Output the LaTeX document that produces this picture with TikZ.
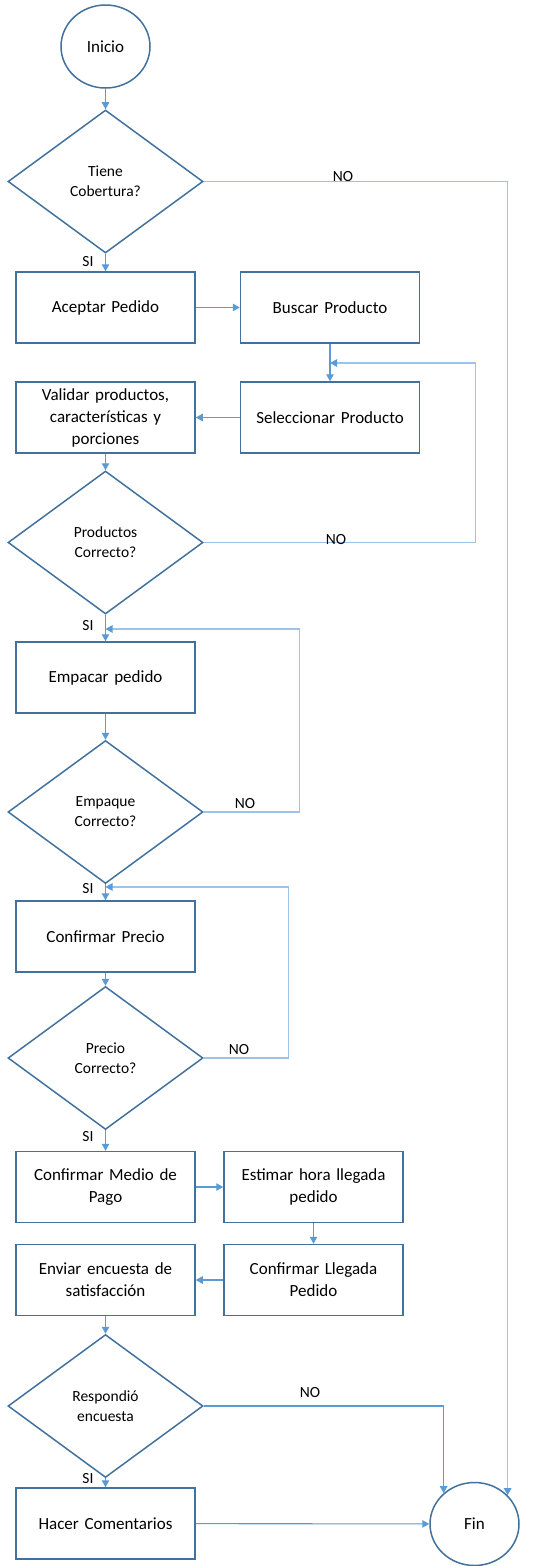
\documentclass[tikz,border=0pt]{standalone}
\usepackage{fontspec}
\setmainfont{Carlito}
\usetikzlibrary{shapes.geometric,arrows.meta,calc}
\definecolor{shapeblue}{HTML}{41719C}
\definecolor{linkblue}{HTML}{5B9BD5}
\definecolor{lightlink}{HTML}{9DC3E6}
\begin{document}
\begin{tikzpicture}[x=1pt,y=-1pt,
  proc/.style={draw=shapeblue,line width=1.5pt,rectangle,minimum width=179pt,minimum height=71pt,
    text width=174pt,align=center,inner sep=0pt,font=\fontsize{17}{22}\selectfont},
  decision/.style={draw=shapeblue,line width=1.5pt,diamond,aspect=1.36,minimum width=195pt,minimum height=143pt,
    inner sep=0pt,align=center,font=\fontsize{15.5}{20}\selectfont},
  terminal/.style={draw=shapeblue,line width=1.5pt,ellipse,minimum width=89pt,minimum height=83pt,
    inner sep=0pt,font=\fontsize{17}{20}\selectfont},
  conn/.style={draw=linkblue,line width=1.1pt,-{Triangle[width=7.5pt,length=7pt]}},
  loopconn/.style={draw=lightlink,line width=1.1pt,-{Triangle[width=7.5pt,length=7pt,color=linkblue]}},
  lbl/.style={font=\fontsize{15.5}{18}\selectfont,inner sep=0pt}
]
\useasboundingbox (0,0) rectangle (555,1566);

% nodes
\node[terminal] (inicio) at (105.5,46.5) {Inicio};
\node[decision] (d1) at (105.5,181.5) {Tiene\\Cobertura?};
\node[proc] (aceptar) at (105.5,307.5) {Aceptar Pedido};
\node[proc] (buscar) at (330,307.5) {Buscar Producto};
\node[proc] (selec) at (330,417.5) {Seleccionar Producto};
\node[proc] (validar) at (105.5,417.5) {Validar productos,\\caracter\'isticas y\\porciones};
\node[decision] (d2) at (105.5,542.5) {Productos\\Correcto?};
\node[proc] (empacar) at (105.5,677.5) {Empacar pedido};
\node[decision] (d3) at (105.5,812) {Empaque\\Correcto?};
\node[proc] (precio) at (105.5,936.5) {Confirmar Precio};
\node[decision] (d4) at (105.5,1058) {Precio\\Correcto?};
\node[proc] (medio) at (105.5,1187) {Confirmar Medio de\\Pago};
\node[proc] (estimar) at (313.5,1187) {Estimar hora llegada\\pedido};
\node[proc] (llegada) at (313.5,1280) {Confirmar Llegada\\Pedido};
\node[proc] (enviar) at (105.5,1280) {Enviar encuesta de\\satisfacci\'on};
\node[decision] (d5) at (105.5,1406) {Respondi\'o\\encuesta};
\node[proc] (hacer) at (105.5,1523.5) {Hacer Comentarios};
\node[terminal] (fin) at (474.5,1524) {Fin};

% junction points on vertical connectors
\coordinate (j1) at (330,363);
\coordinate (j2) at (105.5,629);
\coordinate (j3) at (105.5,887);

% main flow
\draw[conn] (inicio) -- (d1);
\draw[conn] (d1) -- (aceptar);
\draw[conn] (aceptar) -- (buscar);
\draw[conn] (buscar) -- (selec);
\draw[conn] (selec) -- (validar);
\draw[conn] (validar) -- (d2);
\draw[conn] (d2) -- (empacar);
\draw[conn] (empacar) -- (d3);
\draw[conn] (d3) -- (precio);
\draw[conn] (precio) -- (d4);
\draw[conn] (d4) -- (medio);
\draw[conn] (medio) -- (estimar);
\draw[conn] (estimar) -- (llegada);
\draw[conn] (llegada) -- (enviar);
\draw[conn] (enviar) -- (d5);
\draw[conn] (d5) -- (hacer);
\draw[conn] (hacer) -- (fin);

% NO branches
\draw[loopconn] (d1.east) -| (fin.41);
\draw[conn] (d5.east) -| (fin.135);
\draw[loopconn] (d2.east) -- ++(272,0) |- (j1);
\draw[loopconn] (d3.east) -- ++(96,0) |- (j2);
\draw[loopconn] (d4.east) -- ++(85,0) |- (j3);

% labels
\node[lbl] (no1) at (343,177) {NO};
\node[lbl] (no2) at (336,540) {NO};
\node[lbl] (no3) at (245,804) {NO};
\node[lbl] (no4) at (239,1050) {NO};
\node[lbl] (no5) at (310,1393) {NO};
\node[lbl] (si1) at (88,262) {SI};
\node[lbl] (si2) at (88,626) {SI};
\node[lbl] (si3) at (88,889) {SI};
\node[lbl] (si4) at (88,1137) {SI};
\node[lbl] (si5) at (88,1479) {SI};
\end{tikzpicture}
\end{document}
